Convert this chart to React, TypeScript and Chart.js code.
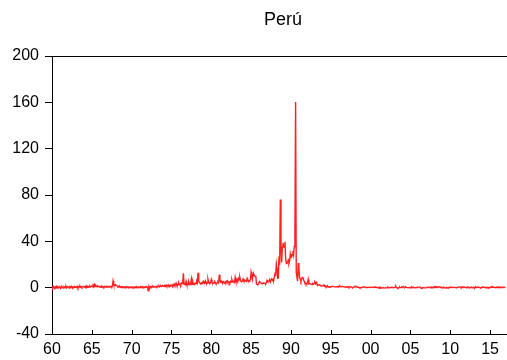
import React, { useEffect, useRef } from "react";
import { Chart, registerables } from "chart.js";

Chart.register(...registerables);

const TITLE = "Perú";
const START_YEAR = 1960;
const X_MIN = 1960;
const X_MAX = 2017;
const X_TICKS = [1960, 1965, 1970, 1975, 1980, 1985, 1990, 1995, 2000, 2005, 2010, 2015];
const Y_TICKS = [-40, 0, 40, 80, 120, 160, 200];

// monthly values (log-difference x100), one row per year
const p1960s = [
  0.5, -0.3, 1.0, 0.2, -0.5, 0.8, 0.3, 1.2, -0.4, 0.6, 0.1, 0.9,
  0.4, -0.6, 0.7, 1.0, 0.2, -0.3, 0.9, 0.5, 0.1, 1.1, -0.2, 0.6,
  0.8, 0.3, -0.4, 0.9, 0.5, 1.2, 0.2, -0.1, 0.7, 0.4, 1.0, 0.3,
  0.6, 0.2, 1.1, -0.2, 0.8, 0.5, 1.3, 0.4, 0.9, 0.1, 0.7, 1.0,
  0.9, 0.4, 1.2, 0.6, 1.5, 0.3, 1.0, 0.8, 0.5, 1.4, 0.7, 1.1,
  1.2, 0.8, 2.5, 1.6, 2.8, 1.0, 1.9, 1.2, 0.8, 1.5, 1.1, 0.9,
  0.7, 1.0, 0.4, 1.2, 0.6, 0.9, 0.3, 1.1, 0.5, 0.8, 1.3, 0.6,
  0.8, 0.5, 1.1, 0.7, 0.9, 1.2, 0.6, 1.4, 5.8, 3.0, 2.2, 1.8,
  2.4, 1.9, 1.5, 1.0, 1.3, 0.6, 1.1, 0.4, 0.9, 0.5, 1.0, 0.3,
  0.2, 0.6, -0.2, 0.5, 0.1, 0.8, 0.3, -0.1, 0.6, 0.4, 0.0, 0.5,
];

const p1970s = [
  0.3, 0.7, 0.1, 0.5, -0.2, 0.4, 0.8, 0.2, 0.6, 0.0, 0.5, 0.3,
  0.6, 0.2, 0.8, 0.4, 1.0, 0.3, 0.7, 0.1, 0.5, 0.9, 0.4, 0.6,
  0.2, -2.6, 0.8, -0.5, 1.0, 0.4, 0.9, 0.6, 1.2, 0.5, 1.0, 0.7,
  0.8, 1.1, 0.6, 1.3, 0.9, 1.5, 0.7, 1.2, 1.6, 1.0, 1.4, 1.8,
  1.5, 1.0, 1.8, 1.3, 2.2, 1.2, 1.6, 2.4, 1.4, 1.9, 1.1, 2.0,
  1.8, 2.5, 1.4, 2.2, 3.2, 1.9, 2.6, 3.8, 2.0, 1.7, 2.8, 4.0,
  2.5, 3.0, 2.2, 4.0, 3.5, 4.5, 12.5, 2.8, 3.3, 2.6, 5.5, 3.0,
  3.2, 2.5, 4.8, 3.0, 2.6, 3.5, 7.5, 2.8, 5.2, 3.0, 2.7, 3.8,
  4.0, 3.5, 5.5, 4.2, 12.8, 6.0, 4.5, 3.8, 3.5, 4.2, 3.6, 4.8,
  5.5, 4.5, 4.0, 5.8, 4.2, 3.5, 4.0, 7.2, 4.5, 4.2, 3.8, 4.5,
];

const p1980s = [
  7.0, 5.0, 4.2, 3.8, 4.0, 5.5, 4.5, 3.5, 3.8, 4.2, 5.0, 4.2,
  11.2, 6.0, 5.0, 5.8, 4.5, 4.0, 5.2, 4.5, 4.2, 5.0, 4.3, 5.5,
  6.0, 4.5, 5.2, 4.8, 4.0, 5.5, 4.8, 7.0, 5.0, 4.8, 5.2, 4.5,
  8.8, 6.0, 5.5, 7.0, 6.2, 8.0, 6.5, 9.0, 6.5, 5.0, 5.5, 6.0,
  7.5, 6.0, 6.5, 5.8, 6.0, 5.5, 8.0, 6.5, 6.0, 5.5, 6.2, 7.0,
  13.5, 11.0, 7.5, 11.5, 11.8, 10.3, 9.8, 10.3, 3.4, 2.9, 2.7, 3.0,
  4.7, 5.0, 4.4, 3.9, 3.5, 3.5, 4.2, 3.9, 3.8, 3.7, 3.4, 4.5,
  6.4, 5.4, 5.6, 5.7, 6.1, 4.8, 7.0, 7.1, 6.3, 7.3, 6.8, 9.2,
  12.0, 11.2, 20.4, 16.5, 8.2, 8.4, 26.9, 19.6, 76.1, 34.1, 21.8, 35.0,
  38.7, 35.4, 35.1, 39.6, 25.2, 20.8, 22.0, 22.4, 23.8, 20.9, 23.0, 29.1,
];

const p1990s = [
  26.1, 26.6, 28.2, 31.7, 28.4, 35.5, 49.0, 160.2, 12.9, 9.2, 5.7, 21.3,
  16.4, 9.0, 7.4, 5.6, 7.3, 8.9, 8.7, 7.0, 5.4, 3.9, 3.8, 3.6,
  3.4, 4.6, 7.1, 3.1, 3.3, 3.4, 3.4, 2.8, 2.7, 3.6, 3.1, 3.7,
  4.7, 3.5, 4.6, 3.2, 2.5, 2.3, 2.4, 2.5, 2.2, 1.7, 1.6, 1.7,
  1.8, 1.7, 2.3, 1.3, 1.4, 0.9, 0.8, 1.6, 0.5, 0.8, 0.9, 0.4,
  0.6, 1.0, 1.3, 1.3, 0.9, 0.8, 0.8, 0.7, 0.9, 0.8, 0.9, 0.6,
  1.1, 1.8, 1.0, 0.8, 0.7, 1.1, 1.0, 0.9, 0.7, 0.6, 0.4, 0.8,
  0.6, 0.6, 0.9, 0.2, 0.4, 1.0, 0.8, 0.5, 0.2, 0.0, 0.5, 0.6,
  0.8, 1.3, 1.3, 0.6, 0.3, 0.5, 0.3, 0.2, -0.3, -0.1, 0.0, 0.3,
  0.3, 0.5, 0.6, 0.4, 0.2, 0.3, 0.2, 0.2, 0.2, 0.3, 0.4, 0.2,
];

const p2000s = [
  0.1, 0.5, 0.5, 0.5, 0.1, 0.1, 0.5, 0.3, 0.5, 0.2, 0.1, 0.0,
  0.1, -0.5, 0.5, 0.5, -0.2, -0.2, -0.1, 0.0, 0.0, -0.3, -0.2, -0.1,
  -0.2, -0.1, 0.4, 0.0, -0.1, -0.1, 0.1, 0.1, 0.2, 0.1, 0.0, 0.0,
  0.2, 0.5, 1.1, 0.0, 0.0, -0.5, -0.2, 0.0, 0.6, 0.0, 0.0, 0.6,
  0.6, 1.1, 0.4, 0.0, 0.4, 0.6, 0.2, 0.0, 0.0, 0.0, -0.2, 0.0,
  0.1, -0.2, 0.6, 0.1, 0.1, 0.2, 0.1, -0.2, -0.1, 0.1, 0.1, 0.4,
  0.5, 0.5, 0.5, 0.5, -0.5, -0.1, -0.2, 0.1, 0.0, 0.0, -0.2, -0.1,
  0.0, 0.3, 0.3, 0.2, 0.5, 0.5, 0.5, 0.1, 0.6, 0.3, 0.1, 0.5,
  0.2, 0.9, 1.0, 0.2, 0.4, 0.8, 0.6, 0.6, 0.6, 0.6, 0.3, 0.4,
  0.1, -0.1, 0.4, 0.0, 0.0, -0.3, 0.2, -0.2, -0.1, 0.1, -0.1, 0.3,
];

const p2010s = [
  0.3, 0.3, 0.3, 0.0, 0.2, 0.3, 0.4, 0.3, 0.0, -0.1, 0.0, 0.2,
  0.4, 0.4, 0.7, 0.7, 0.0, 0.1, 0.8, 0.3, 0.3, 0.3, 0.4, 0.3,
  -0.1, 0.3, 0.8, 0.5, 0.0, 0.0, 0.1, 0.5, 0.5, -0.2, -0.1, 0.3,
  0.1, -0.1, 0.9, 0.3, 0.2, 0.3, 0.6, 0.5, 0.1, 0.0, -0.2, 0.2,
  0.3, 0.6, 0.5, 0.4, 0.2, 0.2, 0.4, -0.1, 0.2, 0.4, -0.1, 0.2,
  0.2, 0.3, 0.8, 0.4, 0.6, 0.3, 0.5, 0.4, 0.0, 0.1, 0.3, 0.5,
  0.4, 0.2, 0.6, 0.0, 0.2, 0.1, 0.1, 0.4, 0.2, 0.4, 0.3, 0.3,
];

const SERIES = [...p1960s, ...p1970s, ...p1980s, ...p1990s, ...p2000s, ...p2010s];

const FONT = "'Liberation Sans', Arial, sans-serif";

const framePlugin = {
  id: "frame",
  afterDraw(chart: any) {
    const { ctx, chartArea } = chart;
    const xs = chart.scales.x;
    ctx.save();
    ctx.strokeStyle = "#000";
    ctx.lineWidth = 1;
    // top border
    ctx.beginPath();
    ctx.moveTo(chartArea.left, Math.round(chartArea.top) + 0.5);
    ctx.lineTo(chart.width, Math.round(chartArea.top) + 0.5);
    ctx.stroke();
    // inward x ticks
    const yb = Math.round(chartArea.bottom);
    xs.ticks.forEach((t: any) => {
      const px = Math.round(xs.getPixelForValue(t.value)) + 0.5;
      ctx.beginPath();
      ctx.moveTo(px, yb);
      ctx.lineTo(px, yb - 4);
      ctx.stroke();
    });
    // title
    ctx.fillStyle = "#000";
    ctx.font = `18px ${FONT}`;
    ctx.textAlign = "center";
    ctx.textBaseline = "middle";
    ctx.fillText(TITLE, (chartArea.left + chartArea.right) / 2 + 4, 20);
    ctx.restore();
  },
};

export default function App() {
  const ref = useRef<HTMLCanvasElement | null>(null);
  useEffect(() => {
    document.body.style.margin = "0";
    if (!ref.current) return;
    const data = SERIES.map((v, i) => ({ x: START_YEAR + i / 12, y: v }));
    const chart = new Chart(ref.current, {
      type: "line",
      data: {
        datasets: [
          {
            data,
            borderColor: "rgb(255,32,32)",
            borderWidth: 1.4,
            pointRadius: 0,
            tension: 0,
            fill: false,
          },
        ],
      },
      options: {
        animation: false,
        responsive: false,
        devicePixelRatio: 1,
        layout: { padding: { top: 56, right: 1, left: 0, bottom: 0 } },
        plugins: {
          legend: { display: false },
          title: { display: false },
          tooltip: { enabled: false },
        },
        scales: {
          x: {
            type: "linear",
            min: X_MIN,
            max: X_MAX,
            afterBuildTicks: (s: any) => {
              s.ticks = X_TICKS.map((v) => ({ value: v }));
            },
            afterFit: (s: any) => {
              s.height = 26;
            },
            grid: { display: true, drawOnChartArea: false, drawTicks: false },
            border: { display: true, color: "#000", width: 1 },
            ticks: {
              color: "#000",
              font: { family: FONT, size: 16 },
              padding: 6,
              maxRotation: 0,
              autoSkip: false,
              callback: (v: any) => String(Math.round(v) % 100).padStart(2, "0"),
            },
          },
          y: {
            min: -40,
            max: 200,
            afterBuildTicks: (s: any) => {
              s.ticks = Y_TICKS.map((v) => ({ value: v }));
            },
            afterFit: (s: any) => {
              s.width = 52;
            },
            grid: { display: true, drawOnChartArea: false, drawTicks: true, tickLength: 7, color: "#000" },
            border: { display: true, color: "#000", width: 1 },
            ticks: {
              color: "#000",
              font: { family: FONT, size: 16 },
              padding: 6,
              callback: (v: any) => String(v),
            },
          },
        },
      },
      plugins: [framePlugin],
    });
    return () => chart.destroy();
  }, []);
  return (
    <div style={{ position: "fixed", left: 0, top: 0, width: 507, height: 360, background: "#fff" }}>
      <canvas ref={ref} width={507} height={360} />
    </div>
  );
}
